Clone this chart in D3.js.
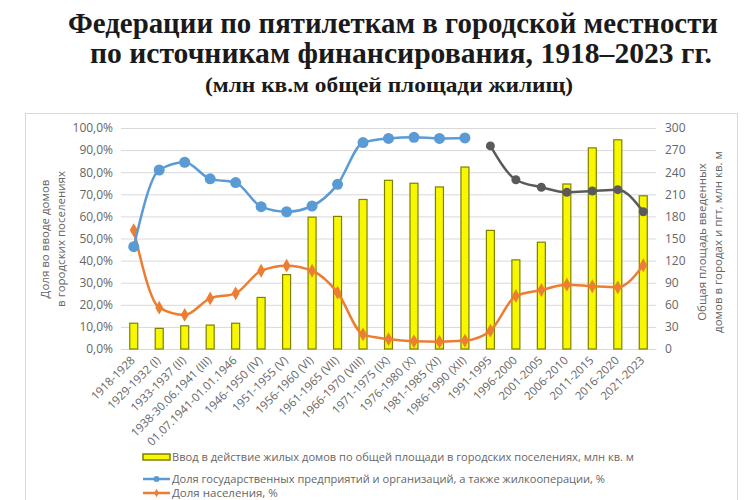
<!DOCTYPE html>
<html><head><meta charset="utf-8">
<script src="https://cdn.jsdelivr.net/npm/d3@7"></script>
<style>
body{margin:0;background:#fff;}
svg{display:block;font-family:"Liberation Sans","DejaVu Sans",sans-serif;}
</style></head>
<body>
<svg id="c" width="750" height="500"></svg>
<script>
const categories = ["1918-1928","1929-1932 (I)","1933-1937 (II)","1938-30.06.1941 (III)","01.07.1941-01.01.1946","1946-1950 (IV)","1951-1955 (V)","1956-1960 (VI)","1961-1965 (VII)","1966-1970 (VIII)","1971-1975 (IX)","1976-1980 (X)","1981-1985 (XI)","1986-1990 (XII)","1991-1995","1996-2000","2001-2005","2006-2010","2011-2015","2016-2020","2021-2023"];
const areaBuilt = [35,28,31.5,32.5,35,70,101,179,180,203,229,225,220,247,161,121,145,224,273,284,208];
const stateShare = [0.463,0.81,0.845,0.77,0.753,0.644,0.621,0.647,0.745,0.934,0.953,0.958,0.953,0.955,null,null,null,null,null,null,null];
const orgShare = [null,null,null,null,null,null,null,null,null,null,null,null,null,null,0.919,0.766,0.732,0.709,0.715,0.721,0.621];
const popShare = [0.538,0.187,0.154,0.229,0.252,0.354,0.377,0.354,0.255,0.066,0.045,0.035,0.033,0.038,0.083,0.24,0.267,0.291,0.284,0.279,0.379];
const leftTicks = [0,0.1,0.2,0.3,0.4,0.5,0.6,0.7,0.8,0.9,1.0];
const rightTicks = [0,30,60,90,120,150,180,210,240,270,300];
const titleLines = ["Федерации по пятилеткам в городской местности","по источникам финансирования, 1918–2023 гг.","(млн кв.м общей площади жилищ)"];
const legendLabels = ["Ввод в действие жилых домов по общей площади в городских поселениях, млн кв. м","Доля государственных предприятий и организаций, а также жилкооперации, %","Доля населения, %"];
const leftTitle = ["Доля во вводе домов","в городских поселениях"];
const rightTitle = ["Общая площадь введенных","домов в городах и пгт, млн кв. м"];

const svg = d3.select("#c");
const C = {blue:"#5b9bd5", orange:"#ed7d31", gray:"#5a5a5a", bar:"#f7f700", barStroke:"#808000", text:"#666666", grid:"#d9d9d9"};

svg.append("rect").attr("width",750).attr("height",500).attr("fill","#fff");

// title
const tl = [{y:33,fs:30,len:650,cx:393},{y:63,fs:30,len:622,cx:401},{y:92,fs:22,len:368,cx:389}];
titleLines.forEach((t,i)=>{
  svg.append("text").attr("x",tl[i].cx).attr("y",tl[i].y).attr("text-anchor","middle")
    .attr("font-family","'Liberation Serif','DejaVu Serif',serif").attr("font-weight","bold")
    .attr("font-size",tl[i].fs).attr("fill","#1a1a1a")
    .attr("textLength",tl[i].len).attr("lengthAdjust","spacingAndGlyphs").text(t);
});

// frame
svg.append("rect").attr("x",25.5).attr("y",113.5).attr("width",712).attr("height",420)
  .attr("fill","none").attr("stroke","#d9d9d9");

const x = d3.scaleBand().domain(categories).range([121,656]);
const yL = d3.scaleLinear().domain([0,1]).range([349,128]);
const yR = d3.scaleLinear().domain([0,300]).range([349,128]);
const cx = d => x(d)+x.bandwidth()/2;

const loc = d3.formatLocale({decimal:",",thousands:" ",grouping:[3],currency:["",""]});

// grid
const grid = svg.append("g").attr("transform","translate(121,0)")
  .call(d3.axisLeft(yL).tickValues(leftTicks).tickSize(-535).tickFormat(""));
grid.select(".domain").remove();
grid.selectAll("line").attr("stroke",C.grid);

// left axis
const gl = svg.append("g").attr("transform","translate(113,0)")
  .call(d3.axisLeft(yL).tickValues(leftTicks).tickSize(0).tickPadding(0).tickFormat(loc.format(".1%")));
gl.select(".domain").remove();
gl.selectAll("text").attr("fill",C.text).attr("font-size",12).attr("font-family","'Open Sans','Liberation Sans',sans-serif");

// right axis
const gr = svg.append("g").attr("transform","translate(665,0)")
  .call(d3.axisRight(yR).tickValues(rightTicks).tickSize(0).tickPadding(0));
gr.select(".domain").remove();
gr.selectAll("text").attr("fill",C.text).attr("font-size",12).attr("font-family","'Open Sans','Liberation Sans',sans-serif");

// axis titles
leftTitle.forEach((t,i)=>{
  svg.append("text").attr("transform",`translate(${49+i*16},239) rotate(-90)`).attr("text-anchor","middle")
    .attr("font-size",11.5).attr("fill",C.text).attr("font-family","'Open Sans','Liberation Sans',sans-serif").text(t);
});
rightTitle.forEach((t,i)=>{
  svg.append("text").attr("transform",`translate(${706+i*16},242) rotate(-90)`).attr("text-anchor","middle")
    .attr("font-size",11.5).attr("fill",C.text).attr("font-family","'Open Sans','Liberation Sans',sans-serif").text(t);
});

// x axis
const gx = svg.append("g").attr("transform","translate(0,349)")
  .call(d3.axisBottom(x).tickSize(0).tickPadding(0));
gx.select(".domain").attr("stroke","#d9d9d9");
gx.selectAll("text").attr("fill",C.text).attr("font-size",11.5)
  .attr("font-family","'Open Sans','Liberation Sans',sans-serif")
  .attr("text-anchor","end").attr("dy",null).attr("y",0)
  .attr("transform","translate(2,12) rotate(-45)");

// bars
svg.append("g").selectAll("rect").data(categories).join("rect")
  .attr("x",d=>cx(d)-4).attr("width",8)
  .attr("y",(d,i)=>yR(areaBuilt[i])).attr("height",(d,i)=>yR(0)-yR(areaBuilt[i]))
  .attr("fill",C.bar).attr("stroke",C.barStroke).attr("stroke-width",1.2);

function series(vals,color,width,marker,r){
  const pts = categories.map((c,i)=>({c,v:vals[i]})).filter(p=>p.v!=null);
  const line = d3.line().x(p=>cx(p.c)).y(p=>yL(p.v)).curve(d3.curveMonotoneX);
  svg.append("path").datum(pts).attr("d",line).attr("fill","none").attr("stroke",color).attr("stroke-width",width);
  const g = svg.append("g");
  if(marker==="circle"){
    g.selectAll("circle").data(pts).join("circle").attr("cx",p=>cx(p.c)).attr("cy",p=>yL(p.v)).attr("r",r).attr("fill",color);
  } else {
    g.selectAll("path").data(pts).join("path").attr("d",d3.symbol(d3.symbolDiamond,r*r*2.2)())
      .attr("transform",p=>`translate(${cx(p.c)},${yL(p.v)})`).attr("fill",color);
  }
}
series(popShare,C.orange,2.5,"diamond",5);
series(stateShare,C.blue,2.5,"circle",5.5);
series(orgShare,C.gray,2.5,"circle",4.5);

// legend
const lg = svg.append("g").attr("font-family","'Open Sans','Liberation Sans',sans-serif").attr("font-size",11.5).attr("fill",C.text);
lg.append("rect").attr("x",143).attr("y",454).attr("width",27).attr("height",6).attr("fill",C.bar).attr("stroke",C.barStroke).attr("stroke-width",1.5);
lg.append("line").attr("x1",143).attr("x2",170).attr("y1",479).attr("y2",479).attr("stroke",C.blue).attr("stroke-width",2.5);
lg.append("circle").attr("cx",156.5).attr("cy",479).attr("r",3).attr("fill",C.blue);
lg.append("line").attr("x1",143).attr("x2",170).attr("y1",493).attr("y2",493).attr("stroke",C.orange).attr("stroke-width",2.5);
lg.append("path").attr("d",d3.symbol(d3.symbolDiamond,20)()).attr("transform","translate(156.5,493)").attr("fill",C.orange);
const lens = [462,433,null];
const ys = [461,483,497];
legendLabels.forEach((t,i)=>{
  const tx = lg.append("text").attr("x",172).attr("y",ys[i]).text(t);
  if(lens[i]) tx.attr("textLength",lens[i]).attr("lengthAdjust","spacingAndGlyphs");
});
</script>
</body></html>
